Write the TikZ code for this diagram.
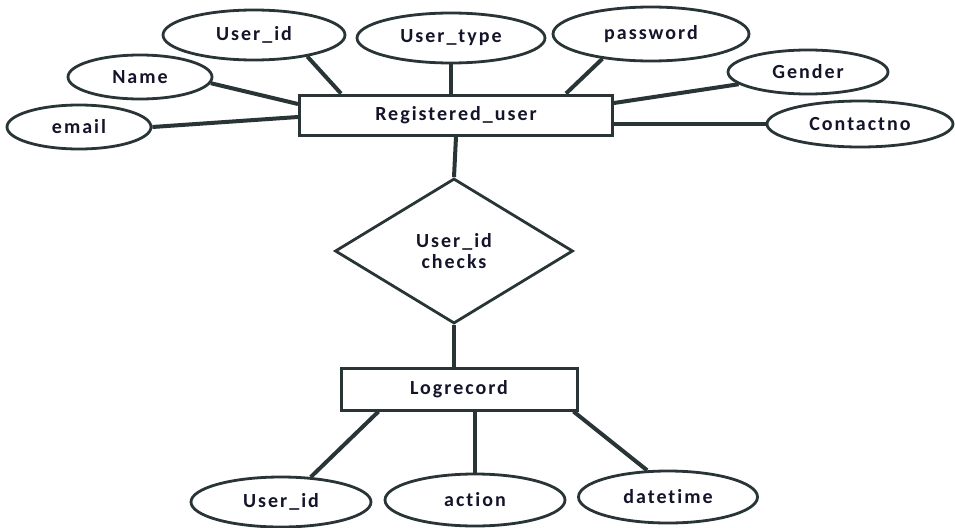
\documentclass[tikz,border=0pt]{standalone}
\usepackage{fontspec}
\setmainfont{Carlito}
\newfontfamily\lblfont[LetterSpace=10,Ligatures={NoCommon}]{Carlito}
\usetikzlibrary{shapes.geometric}
\definecolor{linec}{HTML}{283436}
\definecolor{txtc}{HTML}{14142A}
\begin{document}
\begin{tikzpicture}[x=1pt,y=-1pt,
  lbl/.style={font=\lblfont\bfseries\fontsize{20}{22}\selectfont, text=txtc},
  attr/.style={lbl, ellipse, draw=linec, line width=2.8pt, fill=white, inner sep=0pt},
  entity/.style={lbl, rectangle, draw=linec, line width=3pt, fill=white, inner sep=0pt},
  rel/.style={lbl, diamond, draw=linec, line width=2.8pt, fill=white, inner sep=0pt, align=center},
  conn/.style={draw=linec, line width=4pt}]
\useasboundingbox (0,0) rectangle (955,527);
\fill[white] (0,0) rectangle (955,527);
% entities
\node[entity, minimum width=313pt, minimum height=40pt] (reg) at (456,115) {Registered\_user};
\node[entity, minimum width=236pt, minimum height=42pt] (log) at (459,389) {Logrecord};
\node[rel, minimum width=238pt, minimum height=145pt] (dia) at (454,251) {User\_id\\[-1pt]checks};
% attributes of Registered_user
\node[attr, minimum width=182pt, minimum height=50pt] (uid) at (254,35) {User\_id};
\node[attr, minimum width=188pt, minimum height=50pt] (utype) at (451,38) {User\_type};
\node[attr, minimum width=196pt, minimum height=54pt] (pwd) at (651,34) {password};
\node[attr, minimum width=144pt, minimum height=44pt] (name) at (140,77) {Name};
\node[attr, minimum width=160pt, minimum height=44pt] (gender) at (808,72) {Gender};
\node[attr, minimum width=144pt, minimum height=44pt] (email) at (79,127) {email};
\node[attr, minimum width=186pt, minimum height=46pt] (contact) at (860,124) {Contactno};
% attributes of Logrecord
\node[attr, minimum width=180pt, minimum height=50pt] (uid2) at (281,502) {User\_id};
\node[attr, minimum width=180pt, minimum height=52pt] (action) at (475,500) {action};
\node[attr, minimum width=179pt, minimum height=52pt] (dt) at (668,497) {datetime};
% connectors
\draw[conn] (uid.-22) -- ([xshift=43pt]reg.north west);
\draw[conn] (utype.south) -- (utype.south |- reg.north);
\draw[conn] (pwd.-153) -- ([xshift=-48pt]reg.north east);
\draw[conn] (name.-5) -- ([yshift=11pt]reg.west);
\draw[conn] (email.east) -- ([yshift=-2pt]reg.west);
\draw[conn] (gender.190) -- ([yshift=12pt]reg.east);
\draw[conn] (contact.west) -- (contact.west -| reg.east);
\draw[conn] (reg.south) -- (dia.north);
\draw[conn] (dia.south) -- (dia.south |- log.north);
\draw[conn] ([xshift=39pt]log.south west) -- (uid2.40);
\draw[conn] (action.north) -- (action.north |- log.south);
\draw[conn] ([xshift=-5pt]log.south east) -- (dt.128);
\end{tikzpicture}
\end{document}
